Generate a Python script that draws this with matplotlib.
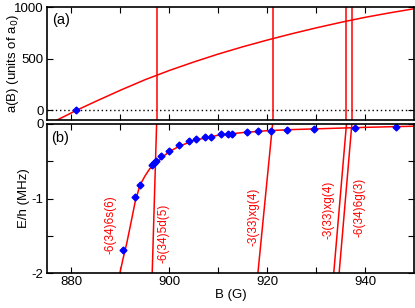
import matplotlib
matplotlib.use("Agg")
import matplotlib.pyplot as plt

plt.rcParams['font.family'] = ['Liberation Sans', 'DejaVu Sans']
plt.rcParams['font.size'] = 9.5

# (a) scattering length curve
a_B = [877.0, 881.0, 885.0, 890.0, 895.0, 900.0, 905.0, 910.0, 915.0, 920.0, 925.0, 930.0, 935.0, 940.0, 945.0, 950.0]
a_val = [-95, 0, 88, 195, 296, 386, 468, 545, 615, 680, 741, 798, 851, 900, 943, 983]
a_pt_B = [881.0]
a_pt_val = [0]

# vertical resonances (B at E=0 in top panel)
res_B = [897.4, 921.1, 936.2, 937.3]

# (b) bound state curve
e_B = [889.9, 890.5, 891.3, 892.3, 893.0, 894.0, 895.0, 896.0, 897.4, 898.5, 900.0, 902.0, 905.0, 908.0, 910.0, 915.0, 920.0, 925.0, 930.0, 935.0, 940.0, 945.0, 950.0]
e_val = [-2.0, -1.82, -1.60, -1.28, -1.05, -0.82, -0.70, -0.60, -0.52, -0.45, -0.37, -0.30, -0.22, -0.18, -0.15, -0.115, -0.09, -0.075, -0.065, -0.055, -0.045, -0.037, -0.03]

# measured points
pt_B = [890.6, 892.9, 894.0, 896.5, 896.8, 897.2, 898.3, 900.0, 902.0, 904.0, 905.5, 907.2, 908.5, 910.6, 911.9, 912.9, 915.8, 918.2, 920.7, 924.1, 929.5, 937.9, 946.4]
pt_E = [-1.69, -0.98, -0.82, -0.55, -0.53, -0.50, -0.43, -0.36, -0.28, -0.23, -0.20, -0.18, -0.17, -0.14, -0.135, -0.13, -0.11, -0.10, -0.09, -0.08, -0.07, -0.05, -0.035]

# steep lines: B at E=-2 and E=0
line_B_bot = [896.5, 918.1, 933.6, 934.7]
line_B_top = [897.4, 921.1, 936.2, 937.3]
line_labels = ['-6(34)5d(5)', '-3(33)xg(4)', '-3(33)xg(4)', '-6(34)6g(3)']
label_xy = [(898.8, -1.47), (917.2, -1.25), (932.6, -1.15), (938.8, -1.12)]
curve_label = '-6(34)6s(6)'
curve_label_xy = (888.0, -1.35)

fig = plt.figure(figsize=(4.15, 3.08), dpi=100)
ax1 = fig.add_axes([47/415, 1-120/308, 367/415, 113/308])
ax2 = fig.add_axes([47/415, 1-273/308, 367/415, 149/308])

red = '#ff0000'
for ax in (ax1, ax2):
    ax.set_xlim(875, 950)
    ax.set_xticks([880, 900, 920, 940])
    ax.set_xticks([890, 910, 930], minor=True)
    ax.tick_params(which='both', direction='in', top=True, right=True, width=0.8)
    ax.tick_params(which='major', length=4, pad=2.5)
    ax.tick_params(which='minor', length=4)
    for s in ax.spines.values():
        s.set_linewidth(1.2)

ax1.plot(a_B, a_val, color=red, lw=1.1)
ax1.axhline(0, color='black', ls=(0, (1, 2)), lw=1.0)
for b in res_B:
    ax1.axvline(b, color=red, lw=1.1)
ax1.plot(a_pt_B, a_pt_val, 'D', color='blue', ms=3.5)
ax1.set_ylim(-93, 1000)
ax1.set_yticks([0, 500, 1000])
ax1.set_xticklabels([])
ax1.set_ylabel('a(B) (units of a$_0$)')
ax1.yaxis.set_label_coords(-0.072, 0.5)
ax1.text(0.014, 0.95, '(a)', transform=ax1.transAxes, fontsize=10.5, va='top')

ax2.plot(e_B, e_val, color=red, lw=1.1)
for b0, b1 in zip(line_B_bot, line_B_top):
    ax2.plot([b0, b1], [-2, 0], color=red, lw=1.1)
ax2.errorbar(pt_B, pt_E, yerr=0.02, fmt='D', color='blue', ms=3.5, elinewidth=0.8, capsize=0)
for lab, (x, y) in zip(line_labels, label_xy):
    ax2.text(x, y, lab, color=red, rotation=90, ha='center', va='center', fontsize=8.5)
ax2.text(curve_label_xy[0], curve_label_xy[1], curve_label, color=red, rotation=90, ha='center', va='center', fontsize=8.5)
ax2.set_ylim(-2, 0)
ax2.set_yticks([-2, -1, 0])
ax2.set_yticklabels(['-2', '-1', '0'])
ax2.set_yticks([-1.5, -0.5], minor=True)
ax2.set_ylabel('E/h (MHz)')
ax2.yaxis.set_label_coords(-0.046, 0.5)
ax2.set_xlabel('B (G)')
ax2.xaxis.set_label_coords(0.5, -0.105)
ax2.text(0.01, 0.95, '(b)', transform=ax2.transAxes, fontsize=10.5, va='top')

fig.savefig('out.png', dpi=100)
